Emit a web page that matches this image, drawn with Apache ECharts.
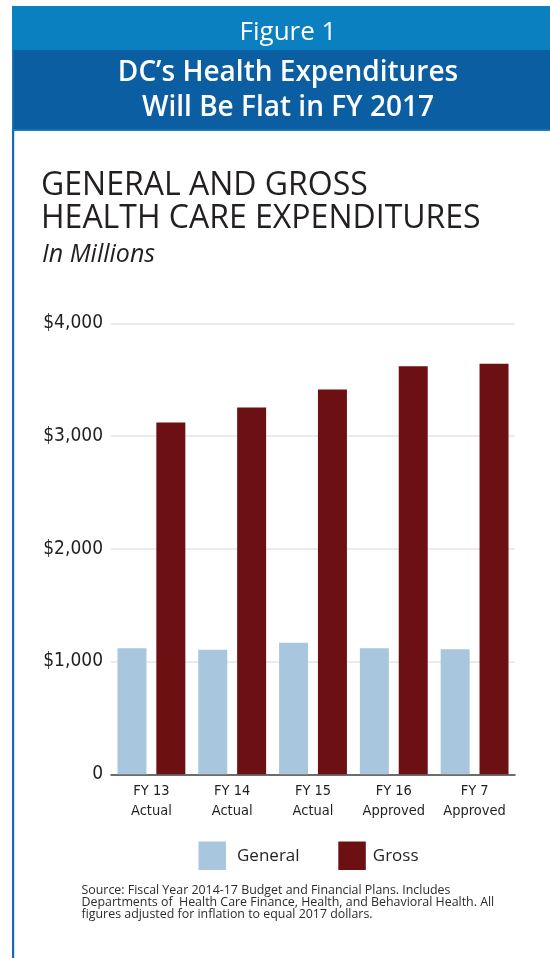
<!DOCTYPE html>
<html>
<head>
<meta charset="utf-8">
<title>DC Health Expenditures</title>
<script src="https://cdn.jsdelivr.net/npm/echarts@6/dist/echarts.min.js"></script>
<style>
  html, body { margin: 0; padding: 0; background: #ffffff; }
  #chart { width: 550px; height: 958px; }
</style>
</head>
<body>
<div id="chart"></div>
<script>
// Fiscal years shown on the category axis
var categories = ['FY 13\nActual', 'FY 14\nActual', 'FY 15\nActual', 'FY 16\nApproved', 'FY 7\nApproved'];

// Health care spending, millions of 2017 dollars
var generalFund = [1119, 1105, 1166, 1119, 1109];
var grossFunds = [3120, 3253, 3413, 3620, 3641];

// Value-axis tick labels (0 .. 4,000 by 1,000)
var yTickLabels = ['0', '$1,000', '$2,000', '$3,000', '$4,000'];

var seriesNames = ['General', 'Gross'];

var chart = echarts.init(document.getElementById('chart'), null, { renderer: 'canvas' });

var textDark = '#231f20';
var condensed = '"DejaVu Sans Condensed", "Liberation Sans Narrow", sans-serif';
var humanist = '"Open Sans", Lato, sans-serif';

chart.setOption({
  backgroundColor: '#ffffff',
  animation: false,
  graphic: [
    // header bands
    { type: 'rect', left: 12, top: 6, shape: { width: 538, height: 44 }, style: { fill: '#0a80c1' }, z: 1 },
    { type: 'rect', left: 12, top: 50, shape: { width: 538, height: 81 }, style: { fill: '#1a79bd' }, z: 1 },
    { type: 'rect', left: 13.5, top: 50, shape: { width: 536.5, height: 79 }, style: { fill: '#0c5ea2' }, z: 2 },
    // left rule running down the panel
    { type: 'rect', left: 12, top: 131, shape: { width: 2.2, height: 827 }, style: { fill: '#1669b3' }, z: 2 },
    {
      type: 'text', left: 81.5, top: 884, z: 5,
      style: {
        text: 'Source: Fiscal Year 2014-17 Budget and Financial Plans. Includes\nDepartments of  Health Care Finance, Health, and Behavioral Health. All\nfigures adjusted for inflation to equal 2017 dollars.',
        font: '12.4px ' + humanist,
        lineHeight: 12.2,
        fill: '#2b2b2b'
      }
    }
  ],
  title: [
    {
      text: 'Figure 1', left: 283, top: 15, textAlign: 'center',
      textStyle: { color: '#ffffff', fontFamily: '"Open Sans", sans-serif', fontWeight: 'normal', fontSize: 26 }
    },
    {
      text: 'DC\u2019s Health Expenditures\nWill Be Flat in FY 2017', left: 283, top: 51, textAlign: 'center',
      textStyle: { color: '#ffffff', fontFamily: '"Open Sans", sans-serif', fontWeight: 600, fontSize: 28, lineHeight: 35 }
    },
    {
      text: 'GENERAL AND GROSS\nHEALTH CARE EXPENDITURES', left: 36, top: 165,
      textStyle: { color: textDark, fontFamily: '"Open Sans", sans-serif', fontWeight: 'normal', fontSize: 32, lineHeight: 32.5 }
    },
    {
      text: 'In Millions', left: 37, top: 237,
      textStyle: { color: textDark, fontFamily: '"Open Sans", sans-serif', fontStyle: 'italic', fontWeight: 'normal', fontSize: 25 }
    }
  ],
  legend: [
    {
      data: [seriesNames[0]], left: 198.5, top: 841.5, orient: 'horizontal', padding: 0,
      icon: 'rect', itemWidth: 27.5, itemHeight: 28.5,
      textStyle: { color: textDark, fontFamily: humanist, fontSize: 17, padding: [0, 0, 0, 6] }
    },
    {
      data: [seriesNames[1]], left: 338.3, top: 841.5, orient: 'horizontal', padding: 0,
      icon: 'rect', itemWidth: 27.5, itemHeight: 28.5,
      textStyle: { color: textDark, fontFamily: humanist, fontSize: 17, padding: [0, 0, 0, 2] }
    }
  ],
  grid: { left: 111, right: 35, top: 323.3, bottom: 183.7, containLabel: false },
  xAxis: {
    type: 'category',
    data: categories,
    axisTick: { show: false },
    axisLine: { lineStyle: { color: '#3d3d3d', width: 1.5 } },
    axisLabel: {
      color: textDark, fontFamily: condensed, fontSize: 14.5, lineHeight: 20, margin: 7, interval: 0
    }
  },
  yAxis: {
    type: 'value',
    min: 0, max: 4000, interval: 1000,
    axisLine: { show: false },
    axisTick: { show: false },
    splitLine: {
      lineStyle: { color: ['rgba(0,0,0,0)', '#e4e4e4', '#e4e4e4', '#e4e4e4', '#e4e4e4'], width: 1.5 }
    },
    axisLabel: {
      color: textDark, fontFamily: condensed, fontSize: 19, margin: 8,
      formatter: function (v) { return yTickLabels[Math.round(v / 1000)]; }
    }
  },
  series: [
    {
      name: seriesNames[0], type: 'bar', data: generalFund,
      barWidth: 29, barGap: '34%',
      itemStyle: { color: '#a8c7df' }
    },
    {
      name: seriesNames[1], type: 'bar', data: grossFunds,
      barWidth: 29, barGap: '34%',
      itemStyle: { color: '#6d1013' }
    }
  ]
});
</script>
</body>
</html>
